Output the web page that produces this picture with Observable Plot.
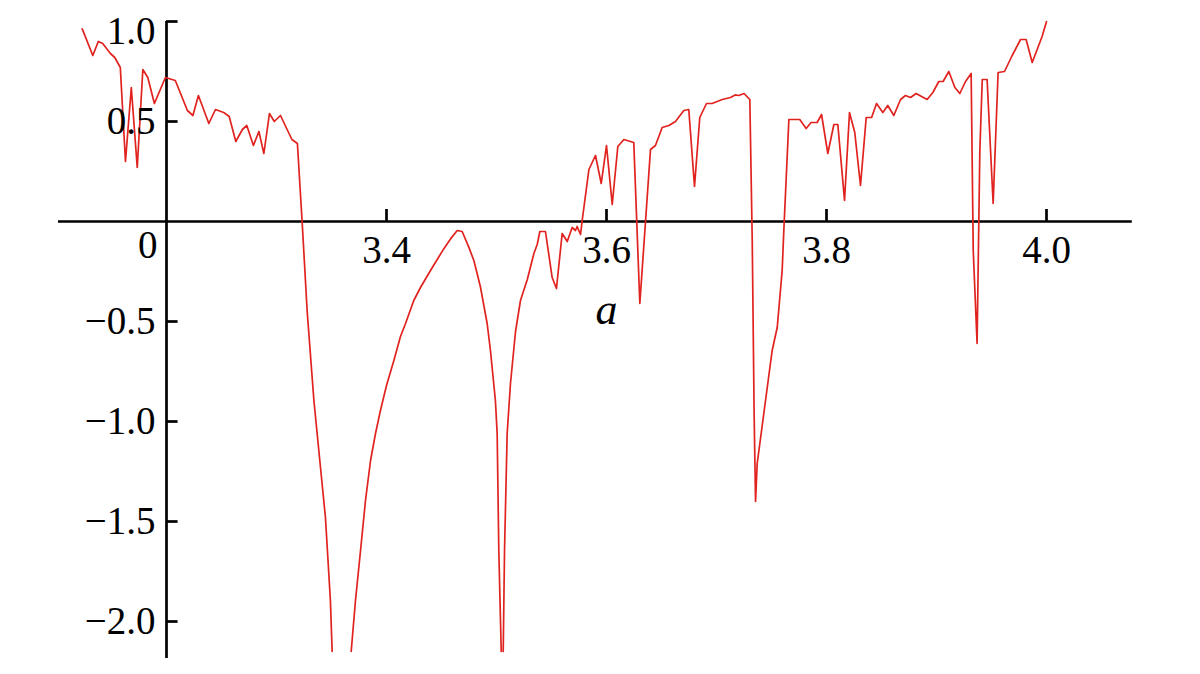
<!DOCTYPE html>
<html>
<head>
<meta charset="utf-8">
<script src="https://cdn.jsdelivr.net/npm/d3@7"></script>
<script src="https://cdn.jsdelivr.net/npm/@observablehq/plot@0.6"></script>
<style>
  html, body { margin: 0; padding: 0; background: #fff; }
  #chart svg { display: block; }
</style>
</head>
<body>
<div id="chart"></div>
<script>
// Parameter a (x) and exponent values (y); null marks where the curve leaves the plot (clipped dips)
const aValues = [
  3.1234, 3.133, 3.138, 3.142, 3.149, 3.153, 3.158, 3.1627, 3.168, 3.1734,
  3.1785, 3.183, 3.189, 3.199, 3.208, 3.219, 3.224, 3.229, 3.2385, 3.2445,
  3.252, 3.257, 3.263, 3.269, 3.273, 3.279, 3.284, 3.2885, 3.2936, 3.298,
  3.3036, 3.314, 3.319, 3.3234, 3.3279, 3.334, 3.34, 3.3445, 3.349, 3.3506,
  3.359, 3.3679, 3.3718, 3.3764, 3.3809, 3.3855, 3.39, 3.3945, 3.40, 3.4067,
  3.4127, 3.4173, 3.4248, 3.4309, 3.44, 3.4461, 3.452, 3.4582, 3.4643, 3.4688,
  3.4748, 3.4794, 3.4824, 3.4855, 3.4915, 3.4945, 3.499, 3.5006, 3.5021, 3.5043,
  3.5052, 3.5061, 3.5073, 3.5097, 3.5127, 3.5173, 3.5218, 3.528, 3.534, 3.537,
  3.5394, 3.5445, 3.5506, 3.5545, 3.5597, 3.5643, 3.5688, 3.5718, 3.5733, 3.5764,
  3.5779, 3.584, 3.59, 3.5952, 3.60, 3.6052, 3.6103, 3.6158, 3.6248, 3.6303,
  3.64, 3.6445, 3.6506, 3.6567, 3.6627, 3.6703, 3.6748, 3.68, 3.6848, 3.6909,
  3.696, 3.7052, 3.7127, 3.717, 3.7203, 3.725, 3.7303, 3.7325, 3.7342, 3.7355,
  3.737, 3.743, 3.7506, 3.7552, 3.7597, 3.7612, 3.7658, 3.7703, 3.7757, 3.7815,
  3.786, 3.7915, 3.7955, 3.8012, 3.8067, 3.8103, 3.8164, 3.8209, 3.8257, 3.8309,
  3.8361, 3.841, 3.8455, 3.8512, 3.8557, 3.8612, 3.8673, 3.8718, 3.8764, 3.8815,
  3.8864, 3.8915, 3.8967, 3.9021, 3.906, 3.9112, 3.9167, 3.9212, 3.9264, 3.9315,
  3.9334, 3.9369, 3.9394, 3.9416, 3.946, 3.9515, 3.956, 3.9618, 3.9688, 3.9764,
  3.9815, 3.987, 3.996, 4.0
];
const lambdaValues = [
  0.963, 0.83, 0.90, 0.89, 0.84, 0.82, 0.77, 0.30, 0.67, 0.27,
  0.76, 0.72, 0.59, 0.72, 0.705, 0.555, 0.53, 0.63, 0.49, 0.56,
  0.545, 0.525, 0.40, 0.46, 0.48, 0.38, 0.45, 0.34, 0.54, 0.50,
  0.53, 0.41, 0.39, -0.01, -0.45, -0.895, -1.23, -1.48, -1.895, -2.15,
  null, -2.15, -1.895, -1.645, -1.395, -1.195, -1.06, -0.945, -0.82, -0.695,
  -0.575, -0.51, -0.395, -0.33, -0.245, -0.19, -0.137, -0.087, -0.045, -0.05,
  -0.128, -0.195, -0.26, -0.33, -0.51, -0.645, -0.895, -1.06, -1.645, -2.15,
  null, -2.15, -1.645, -1.06, -0.81, -0.55, -0.395, -0.29, -0.16, -0.115,
  -0.05, -0.05, -0.28, -0.335, -0.06, -0.10, -0.03, -0.045, -0.025, -0.065,
  0.005, 0.26, 0.33, 0.19, 0.38, 0.085, 0.375, 0.41, 0.395, -0.41,
  0.36, 0.38, 0.47, 0.48, 0.50, 0.555, 0.56, 0.175, 0.52, 0.59,
  0.59, 0.61, 0.62, 0.633, 0.63, 0.64, 0.61, -0.10, -0.96, -1.40,
  -1.21, -0.96, -0.645, -0.53, -0.245, -0.045, 0.51, 0.51, 0.51, 0.465,
  0.495, 0.495, 0.535, 0.34, 0.485, 0.485, 0.105, 0.545, 0.445, 0.18,
  0.52, 0.52, 0.59, 0.545, 0.58, 0.53, 0.61, 0.63, 0.62, 0.64,
  0.625, 0.61, 0.645, 0.70, 0.70, 0.75, 0.67, 0.64, 0.70, 0.74,
  -0.145, -0.61, 0.355, 0.71, 0.71, 0.09, 0.745, 0.75, 0.83, 0.91,
  0.91, 0.795, 0.925, 1.0
];

const xTicks = [3.4, 3.6, 3.8, 4.0];
const xTickLabels = ["3.4", "3.6", "3.8", "4.0"];
const yTicks = [-2.0, -1.5, -1.0, -0.5, 0.5];
const yTickLabels = ["−2.0", "−1.5", "−1.0", "−0.5", "0.5"];
const yTopTick = [1.0];
const yTopLabel = ["1.0"];
const yZeroLabel = ["0"];
const xLabel = "a";

const data = aValues.map((a, i) => ({a, v: lambdaValues[i]}));

const font = "'Liberation Serif', 'Times New Roman', serif";
const fs = 39;

const chart = Plot.plot({
  width: 1200,
  height: 674,
  margin: 0,
  style: {background: "#fff", overflow: "visible"},
  x: {domain: [3.2, 4.0], range: [166, 1046], axis: null},
  y: {domain: [-2, 1], range: [621, 21], axis: null},
  marks: [
    // axes lines
    Plot.ruleY([0], {x1: 3.1018, x2: 4.078, stroke: "#000", strokeWidth: 2.7}),
    Plot.ruleX([3.2], {y1: -2.185, y2: 1.0, stroke: "#000", strokeWidth: 2.7}),
    // tick marks (x ticks point up, y ticks point right)
    Plot.ruleX(xTicks, {x: d => d, y1: 0, y2: 0.06, stroke: "#000", strokeWidth: 2.7}),
    Plot.ruleY(yTicks.concat(yTopTick), {y: d => d, x1: 3.2, x2: 3.2105, stroke: "#000", strokeWidth: 2.7}),
    // curve
    Plot.line(data, {x: "a", y: "v", stroke: "#e0231f", strokeWidth: 1.7, curve: "linear"}),
    // tick labels
    Plot.text(xTicks, {x: d => d, y: 0, dy: 29, text: (d, i) => xTickLabels[i],
      fontFamily: font, fontSize: fs, fill: "#000", textAnchor: "middle"}),
    Plot.text(yTicks, {x: 3.2, y: d => d, dx: -11, text: (d, i) => yTickLabels[i],
      fontFamily: font, fontSize: fs, fill: "#000", textAnchor: "end"}),
    Plot.text(yTopTick, {x: 3.2, y: d => d, dx: -11, dy: 10, text: (d, i) => yTopLabel[i],
      fontFamily: font, fontSize: fs, fill: "#000", textAnchor: "end"}),
    Plot.text([0], {x: 3.2, y: 0, dx: -9, dy: 24, text: (d, i) => yZeroLabel[i],
      fontFamily: font, fontSize: fs, fill: "#000", textAnchor: "end"}),
    // axis title
    Plot.text([xLabel], {x: 3.6, y: 0, dy: 88, text: d => d,
      fontFamily: font, fontSize: 44, fontStyle: "italic", fill: "#000", textAnchor: "middle"})
  ]
});

document.getElementById("chart").appendChild(chart);
</script>
</body>
</html>
